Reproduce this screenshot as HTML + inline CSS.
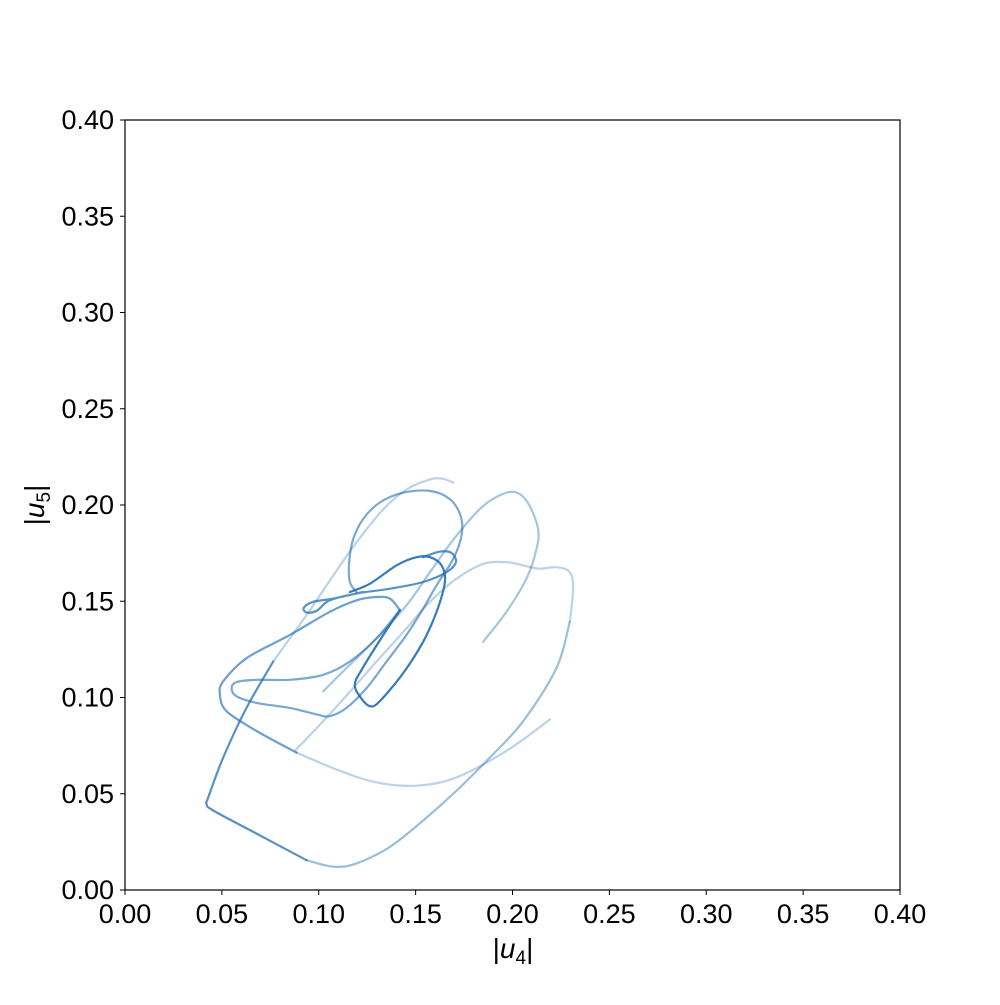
<!DOCTYPE html>
<html><head><meta charset="utf-8"><style>
html,body{margin:0;padding:0;background:#fff;}
svg text{font-family:"Liberation Sans","DejaVu Sans",sans-serif;fill:#000;}
</style></head><body>
<svg id="chart" width="1000" height="1000" viewBox="0 0 1000 1000" xmlns="http://www.w3.org/2000/svg">
<rect x="0" y="0" width="1000" height="1000" fill="#fff"/>
<g id="series"></g>
<g id="axes"></g>
<rect x="125" y="120" width="775" height="770" fill="none" stroke="#000" stroke-width="1.2"/>
<text x="513" y="958" font-size="28" text-anchor="middle">|<tspan font-style="italic">u</tspan><tspan font-size="19" dy="6">4</tspan><tspan dy="-6">|</tspan></text>
<text transform="translate(44,505) rotate(-90)" font-size="28" text-anchor="middle">|<tspan font-style="italic">u</tspan><tspan font-size="19" dy="6">5</tspan><tspan dy="-6">|</tspan></text>
</svg>
<script>
const xTicks = [0,0.05,0.10,0.15,0.20,0.25,0.30,0.35,0.40];
const yTicks = [0,0.05,0.10,0.15,0.20,0.25,0.30,0.35,0.40];
const tickLabels = ["0.00","0.05","0.10","0.15","0.20","0.25","0.30","0.35","0.40"];
const seriesAlpha = [0.9,0.75,0.65,0.3,0.6,0.3,0.75,0.45,0.3,0.4];
const u4_s1=[.1419,.1333,.1221,.1186,.1212,.1264,.1315,.1436,.1539,.1608,.1651,.1634,.1574,.1505,.1401,.1264,.1161];
const u5_s1=[.1454,.1325,.1144,.1067,.1006,.0955,.0981,.1127,.1290,.1445,.1600,.1686,.1729,.1729,.1686,.1591,.1548];
const u4_s2=[.1229,.1075,.0971,.0923,.0937,.0989,.1057,.1195,.1367,.1539,.1659,.1708,.1685,.1625,.1539];
const u5_s2=[.1548,.1514,.1497,.1466,.1442,.1450,.1505,.1540,.1565,.1600,.1651,.1703,.1751,.1758,.1729];
const u4_s3=[.1419,.1367,.1298,.1195,.1057,.0851,.0627,.0507,.0490,.0524,.0679,.0885];
const u5_s3=[.1454,.1514,.1522,.1505,.1445,.1325,.1204,.1084,.1015,.0929,.0826,.0714];
const u4_s4=[.0885,.1109,.1298,.1505,.1711,.1969,.2193];
const u5_s4=[.0714,.0619,.0559,.0542,.0585,.0723,.0886];
const u4_s5=[.1195,.1161,.1157,.1178,.1229,.1315,.1436,.1574,.1677,.1732,.1737,.1694,.1608,.1539,.1453,.1350,.1247,.1143,.1057,.0989,.0851,.0679,.0576,.0550,.0576,.0679,.0851,.1023,.1161,.1298,.1419];
const u5_s5=[.1548,.1600,.1703,.1823,.1927,.2013,.2064,.2073,.2030,.1944,.1841,.1720,.1583,.1462,.1325,.1187,.1049,.0946,.0903,.0912,.0946,.0972,.1006,.1049,.1080,.1092,.1092,.1118,.1187,.1307,.1454];
const u4_s6=[.1694,.1642,.1574,.1453,.1333,.1195,.1075,.0937,.0765];
const u5_s6=[.2116,.2136,.2133,.2081,.1978,.1806,.1634,.1428,.1187];
const u4_s7=[.0765,.0627,.0507,.0430,.0421,.0455,.0679,.0937];
const u5_s7=[.1187,.0946,.0688,.0482,.0447,.0413,.0293,.0155];
const u4_s8=[.0937,.1075,.1195,.1367,.1539,.1711,.1883,.2055,.2227,.2296];
const u5_s8=[.0155,.0121,.0138,.0224,.0361,.0516,.0688,.0877,.1153,.1393];
const u4_s9=[.2296,.2313,.2296,.2227,.2141,.2055,.1969,.1849,.1711,.1574,.1453,.1298,.1178,.1023,.0877];
const u5_s9=[.1393,.1565,.1651,.1677,.1669,.1686,.1703,.1694,.1617,.1497,.1359,.1187,.1049,.0877,.0723];
const u4_s10=[.1849,.1969,.2072,.2124,.2132,.2089,.2038,.1969,.1849,.1711,.1574,.1453,.1298,.1143,.1023];
const u5_s10=[.1290,.1445,.1617,.1772,.1875,.1995,.2056,.2064,.1995,.1841,.1651,.1479,.1307,.1153,.1032];

const X0=125,X1=900,Y0=890,Y1=120,DMAX=0.4;
function sx(v){return X0+(X1-X0)*v/DMAX;}
function sy(v){return Y0-(Y0-Y1)*v/DMAX;}
const NS="http://www.w3.org/2000/svg";
const seriesG=document.getElementById('series');
const axesG=document.getElementById('axes');
const allU4=[u4_s1,u4_s2,u4_s3,u4_s4,u4_s5,u4_s6,u4_s7,u4_s8,u4_s9,u4_s10];
const allU5=[u5_s1,u5_s2,u5_s3,u5_s4,u5_s5,u5_s6,u5_s7,u5_s8,u5_s9,u5_s10];
function smoothPath(xs,ys){
  const p=xs.map((x,i)=>[sx(x),sy(ys[i])]);
  let d="M"+p[0][0].toFixed(1)+","+p[0][1].toFixed(1);
  for(let i=0;i<p.length-1;i++){
    const a=p[Math.max(0,i-1)],b=p[i],c=p[i+1],e=p[Math.min(p.length-1,i+2)];
    const c1=[b[0]+(c[0]-a[0])/6,b[1]+(c[1]-a[1])/6];
    const c2=[c[0]-(e[0]-b[0])/6,c[1]-(e[1]-b[1])/6];
    d+=" C"+c1[0].toFixed(1)+","+c1[1].toFixed(1)+" "+c2[0].toFixed(1)+","+c2[1].toFixed(1)+" "+c[0].toFixed(1)+","+c[1].toFixed(1);
  }
  return d;
}
const order=[3,5,8,9,7,2,4,1,6,0];
order.forEach(i=>{
  const path=document.createElementNS(NS,'path');
  path.setAttribute('d',smoothPath(allU4[i],allU5[i]));
  path.setAttribute('fill','none');
  path.setAttribute('stroke','rgb(31,110,178)');
  path.setAttribute('stroke-opacity',seriesAlpha[i]);
  path.setAttribute('stroke-width','2.2');
  path.setAttribute('stroke-linecap','round');
  path.setAttribute('stroke-linejoin','round');
  
  
  seriesG.appendChild(path);
});
xTicks.forEach((v,i)=>{
  const l=document.createElementNS(NS,'line');
  l.setAttribute('x1',sx(v));l.setAttribute('x2',sx(v));
  l.setAttribute('y1',Y0);l.setAttribute('y2',Y0+5);
  l.setAttribute('stroke','#000');
  
  
  axesG.appendChild(l);
  const t=document.createElementNS(NS,'text');
  t.setAttribute('x',sx(v));t.setAttribute('y',Y0+33);
  t.setAttribute('font-size','27');t.setAttribute('text-anchor','middle');
  t.textContent=tickLabels[i];
  
  
  axesG.appendChild(t);
});
yTicks.forEach((v,i)=>{
  const l=document.createElementNS(NS,'line');
  l.setAttribute('x1',X0-5);l.setAttribute('x2',X0);
  l.setAttribute('y1',sy(v));l.setAttribute('y2',sy(v));
  l.setAttribute('stroke','#000');
  
  
  axesG.appendChild(l);
  const t=document.createElementNS(NS,'text');
  t.setAttribute('x',X0-11);t.setAttribute('y',sy(v)+9);
  t.setAttribute('font-size','27');t.setAttribute('text-anchor','end');
  t.textContent=tickLabels[i];
  
  
  axesG.appendChild(t);
});
</script>
</body></html>
